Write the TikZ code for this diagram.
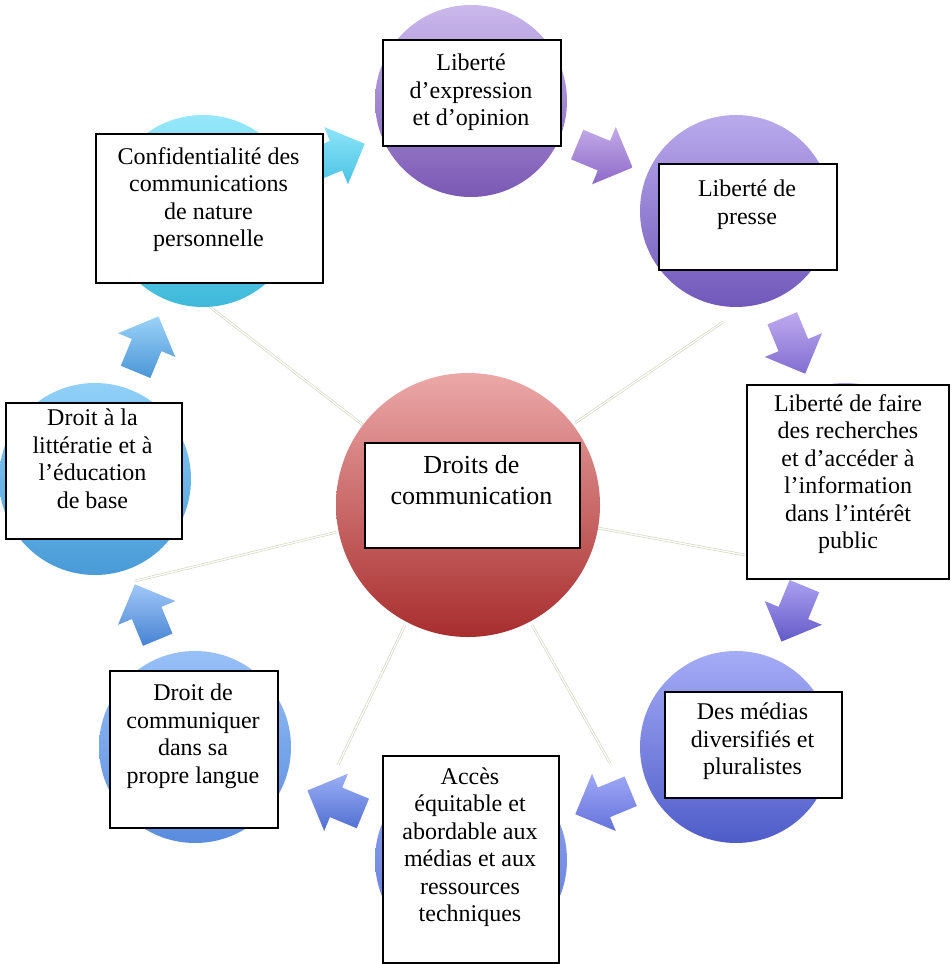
\documentclass[tikz,border=0pt]{standalone}
\usepackage{fontspec}
\setmainfont{Liberation Serif}
\definecolor{spokecol}{RGB}{208,212,188}
\newcommand\blkarrow[3]{%
  \shade[top color=#2, bottom color=#3,
    shift={({470+350*cos(#1)},{479-350*sin(#1)})}, rotate={#1-90}]
    (-29,-16) -- (0,-16) -- (0,-31) -- (31,0) -- (0,31) -- (0,16) -- (-29,16) -- cycle;}
\begin{document}
\begin{tikzpicture}[x=1pt,y=-1pt,
  bubble/.style={circle, draw=none, inner sep=0pt, minimum size=192pt},
  frame/.style={draw=black, line width=1.8pt, fill=white, inner sep=0pt, anchor=north west},
  txt/.style={align=center, inner sep=0pt, anchor=north, font=\fontsize{24}{27.5}\selectfont, execute at begin node=\strut},
  spoke/.style={draw=spokecol, double=white, double distance=1.3pt, line width=0.6pt},
]
\useasboundingbox[fill=white] (0,0) rectangle (951,964);

% spokes
\coordinate (s1a) at (463,372); \coordinate (s1b) at (463,207);
\coordinate (s2a) at (575,423); \coordinate (s2b) at (723,322);
\coordinate (s3a) at (598,528); \coordinate (s3b) at (745,555);
\coordinate (s4a) at (532,625); \coordinate (s4b) at (610,763);
\coordinate (s5a) at (405,625); \coordinate (s5b) at (338,765);
\coordinate (s6a) at (337,532); \coordinate (s6b) at (135,581);
\coordinate (s7a) at (363,425); \coordinate (s7b) at (210,307);
\foreach \i in {1,...,7} { \draw[spoke] (s\i a) -- (s\i b); }

% circles
\node[bubble, top color={rgb,255:red,203;green,185;blue,236}, bottom color={rgb,255:red,122;green,88;blue,180}] (cExp) at (471,101) {};
\node[bubble, top color={rgb,255:red,185;green,170;blue,236}, bottom color={rgb,255:red,112;green,88;blue,186}] (cPre) at (736,211) {};
\node[bubble, top color={rgb,255:red,170;green,160;blue,240}, bottom color={rgb,255:red,100;green,90;blue,200}] (cFai) at (845,479) {};
\node[bubble, top color={rgb,255:red,165;green,172;blue,247}, bottom color={rgb,255:red,78;green,92;blue,200}] (cMed) at (736,747) {};
\node[bubble, top color={rgb,255:red,150;green,170;blue,245}, bottom color={rgb,255:red,90;green,120;blue,215}] (cAcc) at (471,860) {};
\node[bubble, top color={rgb,255:red,152;green,192;blue,248}, bottom color={rgb,255:red,88;green,140;blue,222}] (cCom) at (195,747) {};
\node[bubble, top color={rgb,255:red,145;green,208;blue,248}, bottom color={rgb,255:red,72;green,155;blue,215}] (cLit) at (95,479) {};
\node[bubble, top color={rgb,255:red,150;green,232;blue,250}, bottom color={rgb,255:red,62;green,185;blue,218}] (cCon) at (203,211) {};
\node[bubble, minimum size=264pt, top color={rgb,255:red,236;green,168;blue,168}, bottom color={rgb,255:red,168;green,45;blue,45}] (cCen) at (468,505) {};

% arrows
\blkarrow{112.5}{{rgb,255:red,140;green,228;blue,248}}{{rgb,255:red,75;green,195;blue,230}}
\blkarrow{67.5}{{rgb,255:red,195;green,170;blue,232}}{{rgb,255:red,140;green,105;blue,200}}
\blkarrow{22.5}{{rgb,255:red,190;green,170;blue,238}}{{rgb,255:red,130;green,110;blue,210}}
\blkarrow{-22.5}{{rgb,255:red,170;green,160;blue,240}}{{rgb,255:red,100;green,90;blue,200}}
\blkarrow{-67.5}{{rgb,255:red,160;green,168;blue,245}}{{rgb,255:red,100;green,115;blue,220}}
\blkarrow{-112.5}{{rgb,255:red,155;green,175;blue,245}}{{rgb,255:red,80;green,110;blue,210}}
\blkarrow{-157.5}{{rgb,255:red,160;green,200;blue,248}}{{rgb,255:red,70;green,130;blue,210}}
\blkarrow{157.5}{{rgb,255:red,155;green,210;blue,248}}{{rgb,255:red,75;green,150;blue,215}}

% boxes
\node[frame, minimum width=178pt, minimum height=106pt] (bExp) at (382,39) {};
\node[frame, minimum width=227pt, minimum height=149pt] (bCon) at (95,133) {};
\node[frame, minimum width=178pt, minimum height=106pt] (bPre) at (658,163) {};
\node[frame, minimum width=202pt, minimum height=194pt] (bFai) at (746,384) {};
\node[frame, minimum width=177pt, minimum height=106pt] (bMed) at (664,691) {};
\node[frame, minimum width=176pt, minimum height=207pt] (bAcc) at (382,755) {};
\node[frame, minimum width=168pt, minimum height=157pt] (bCom) at (109,670) {};
\node[frame, minimum width=176pt, minimum height=136pt] (bLit) at (5,402) {};
\node[frame, minimum width=215pt, minimum height=105pt] (bCen) at (364,442) {};

% texts
\node[txt] (tExp) at (471,54) {Liberté\\d’expression\\et d’opinion};
\node[txt] (tCon) at (208.5,147) {Confidentialité des\\communications\\de nature\\personnelle};
\node[txt] (tPre) at (747,180) {Liberté de\\presse};
\node[txt] (tFai) at (848,394) {Liberté de faire\\des recherches\\et d’accéder à\\l’information\\dans l’intérêt\\public};
\node[txt] (tMed) at (752.5,703) {Des médias\\diversifiés et\\pluralistes};
\node[txt] (tAcc) at (470,767.5) {Accès\\équitable et\\abordable aux\\médias et aux\\ressources\\techniques};
\node[txt] (tCom) at (193,684) {Droit de\\communiquer\\dans sa\\propre langue};
\node[txt] (tLit) at (92.5,409) {Droit à la\\littératie et à\\l’éducation\\de base};
\node[txt, font=\fontsize{26}{31}\selectfont] (tCen) at (471.5,455) {Droits de\\communication};
\end{tikzpicture}
\end{document}
